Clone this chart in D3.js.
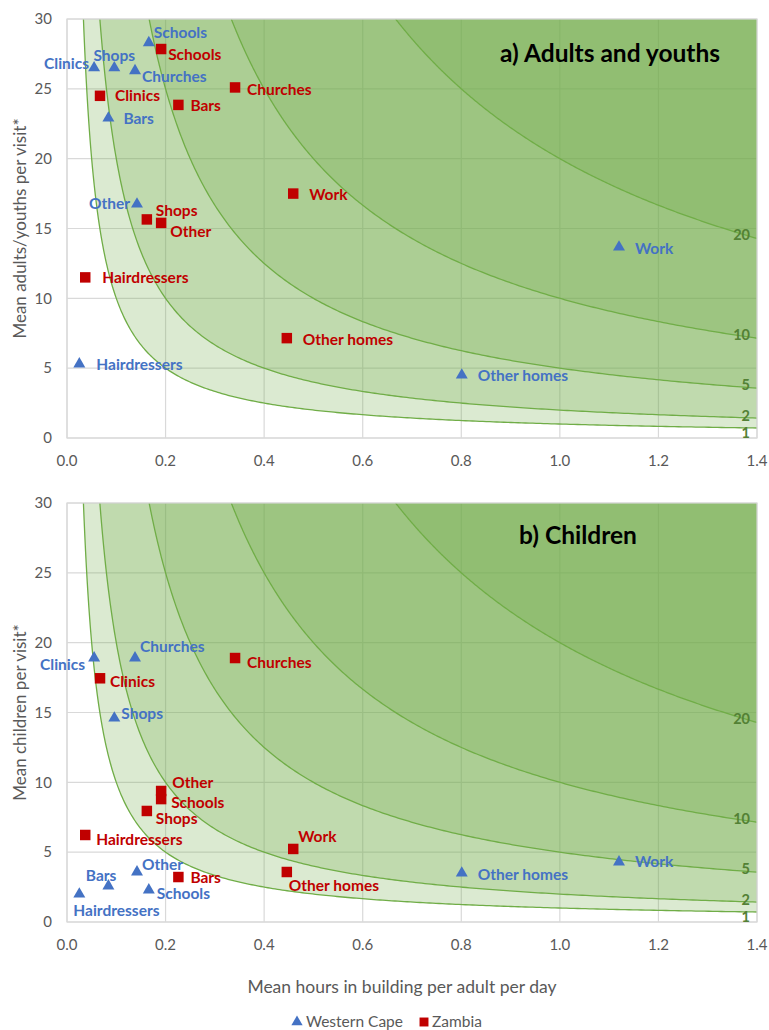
<!DOCTYPE html>
<html><head><meta charset="utf-8">
<script src="https://cdn.jsdelivr.net/npm/d3@7"></script>
<style>body{margin:0;background:#fff;} svg{display:block;font-family:Lato,"Open Sans",sans-serif;}</style>
</head><body><svg id="c" width="769" height="1030"></svg>
<script>
// ---- data ----
const places = ["Schools","Clinics","Shops","Churches","Bars","Other","Hairdressers","Other homes","Work"];
const wcHours = [0.166,0.055,0.096,0.138,0.084,0.142,0.025,0.801,1.12];
const zmHours = [0.191,0.067,0.162,0.341,0.226,0.191,0.037,0.446,0.459];
const wcAdults = [28.3,26.5,26.5,26.3,22.9,16.75,5.3,4.5,13.67];
const zmAdults = [27.85,24.5,15.65,25.1,23.85,15.4,11.5,7.15,17.5];
const wcChildren = [2.29,18.9,14.6,18.9,2.58,3.58,2.0,3.5,4.3];
const zmChildren = [8.8,17.45,7.95,18.9,3.22,9.38,6.23,3.58,5.23];
const contourLevels = [1,2,5,10,20];
const xTicks = [0,0.2,0.4,0.6,0.8,1.0,1.2,1.4];
const yTicks = [0,5,10,15,20,25,30];
const seriesNames = ["Western Cape","Zambia"];

// ---- label placement (style) ----
const lab = {
  topWC: [[5,-10,"start"],[-5,-4,"end"],[0,-12,"middle"],[7,6,"start"],[15,0,"start"],[-7,0,"end"],[17,1,"start"],[16,0,"start"],[16,1,"start"]],
  topZM: [[7,6,"start"],[15,0,"start"],[9,-9,"start"],[12,2,"start"],[12,1,"start"],[9,9,"start"],[17,0,"start"],[16,1,"start"],[16,1,"start"]],
  botWC: [[8,4,"start"],[-9,7,"end"],[7,-5,"start"],[5,-11,"start"],[8,-10,"end"],[5,-7,"start"],[-6,17,"start"],[16,1,"start"],[16,0,"start"]],
  botZM: [[10,3.5,"start"],[10,3,"start"],[9,8,"start"],[12,5,"start"],[12,1,"start"],[11,-8.5,"start"],[11,5,"start"],[2,14,"start"],[5,-12,"start"]]
};
const contourLabDy = [5,-2,-3,-3,-4];

const BLUE="#4472C4", RED="#C00000", GREEN="#70AD47", DKGREEN="#538135", GRID="#d9d9d9", TXT="#595959";
const svg = d3.select("#c");
const L=67, R=757;
const x = d3.scaleLinear().domain([0,1.4]).range([L,R]);

function panel(top, bottom, title, titleX, titleAnchor, titleY, ylabel, wcY, zmY, labWC, labZM){
  const y = d3.scaleLinear().domain([0,30]).range([bottom, top]);
  const g = svg.append("g");
  const cid = "clip"+top;
  g.append("clipPath").attr("id",cid).append("rect").attr("x",L).attr("y",top).attr("width",R-L).attr("height",bottom-top);
  // gridlines
  g.append("g").selectAll("line").data(yTicks).join("line")
    .attr("x1",L).attr("x2",R).attr("y1",d=>y(d)).attr("y2",d=>y(d)).attr("stroke",GRID).attr("stroke-width",1.2);
  g.append("g").selectAll("line").data(xTicks).join("line")
    .attr("y1",top).attr("y2",bottom).attr("x1",d=>x(d)).attr("x2",d=>x(d)).attr("stroke",GRID).attr("stroke-width",1.2);
  // contour fills and lines
  const cg = g.append("g").attr("clip-path",`url(#${cid})`);
  contourLevels.forEach(k=>{
    const x0 = k/30;
    const pts = d3.range(0,301).map(i=> x0 + (1.4-x0)*Math.pow(i/300,2));
    cg.append("path").datum(pts)
      .attr("d", d3.area().x(d=>x(d)).y0(y(30)).y1(d=>y(k/d)))
      .attr("fill",GREEN).attr("fill-opacity",0.25);
    cg.append("path").datum(pts)
      .attr("d", d3.line().x(d=>x(d)).y(d=>y(k/d)))
      .attr("fill","none").attr("stroke",GREEN).attr("stroke-width",1.3);
  });
  // border
  g.append("rect").attr("x",L).attr("y",top).attr("width",R-L).attr("height",bottom-top)
    .attr("fill","none").attr("stroke",GRID).attr("stroke-width",1.2);
  // contour labels
  g.append("g").selectAll("text").data(contourLevels).join("text")
    .attr("x",R-7).attr("y",(d,i)=>y(d/1.4)+contourLabDy[i]).attr("dy","0.35em")
    .attr("text-anchor","end").attr("font-size",14.5).attr("font-weight","bold").attr("fill",DKGREEN)
    .text(d=>d);
  // axes ticks
  g.append("g").selectAll("text").data(yTicks).join("text")
    .attr("x",52).attr("y",d=>y(d)).attr("dy","0.35em").attr("text-anchor","end")
    .attr("font-size",15).attr("fill",TXT).text(d=>d);
  g.append("g").selectAll("text").data(xTicks).join("text")
    .attr("x",d=>x(d)).attr("y",bottom+23).attr("dy","0.35em").attr("text-anchor","middle")
    .attr("font-size",15).attr("fill",TXT).text(d=>d3.format(".1f")(d));
  // y label
  g.append("text").attr("transform",`translate(20,${(top+bottom)/2}) rotate(-90)`)
    .attr("text-anchor","middle").attr("dy","0.35em").attr("font-size",17).attr("fill",TXT).text(ylabel);
  // title
  g.append("text").attr("x",titleX).attr("y",titleY).attr("text-anchor",titleAnchor)
    .attr("font-size",24.5).attr("font-weight","bold").attr("fill","#000").text(title);
  // points
  const tri = d3.symbol().type(d3.symbolTriangle).size(62);
  const sq = d3.symbol().type(d3.symbolSquare).size(110);
  const wcData = places.map((p,i)=>({p, x:wcHours[i], y:wcY[i], l:labWC[i]}));
  const zmData = places.map((p,i)=>({p, x:zmHours[i], y:zmY[i], l:labZM[i]}));
  g.append("g").selectAll("path").data(zmData).join("path")
    .attr("transform",d=>`translate(${x(d.x)},${y(d.y)})`).attr("d",sq).attr("fill",RED);
  g.append("g").selectAll("path").data(wcData).join("path")
    .attr("transform",d=>`translate(${x(d.x)},${y(d.y)})`).attr("d",tri).attr("fill",BLUE);
  const lbl=(data,col)=>g.append("g").selectAll("text").data(data).join("text")
    .attr("x",d=>x(d.x)+d.l[0]).attr("y",d=>y(d.y)+d.l[1]).attr("dy","0.35em")
    .attr("text-anchor",d=>d.l[2]).attr("font-size",15.5).attr("font-weight","bold").attr("fill",col).text(d=>d.p);
  lbl(zmData,RED); lbl(wcData,BLUE);
}

panel(19,438,"a) Adults and youths",720,"end",62,"Mean adults/youths per visit*",wcAdults,zmAdults,lab.topWC,lab.topZM);
panel(503,922,"b) Children",578,"middle",544,"Mean children per visit*",wcChildren,zmChildren,lab.botWC,lab.botZM);

// x axis title
svg.append("text").attr("x",402).attr("y",987).attr("dy","0.35em").attr("text-anchor","middle")
  .attr("font-size",17.5).attr("fill",TXT).text("Mean hours in building per adult per day");
// legend
const lg = svg.append("g");
lg.append("path").attr("transform","translate(297,1022)").attr("d",d3.symbol().type(d3.symbolTriangle).size(55)).attr("fill",BLUE);
lg.append("text").attr("x",306).attr("y",1022).attr("dy","0.35em").attr("font-size",15.5).attr("fill",TXT).text(seriesNames[0]);
lg.append("path").attr("transform","translate(424,1022)").attr("d",d3.symbol().type(d3.symbolSquare).size(80)).attr("fill",RED);
lg.append("text").attr("x",432).attr("y",1022).attr("dy","0.35em").attr("font-size",15.5).attr("fill",TXT).text(seriesNames[1]);
</script></body></html>
